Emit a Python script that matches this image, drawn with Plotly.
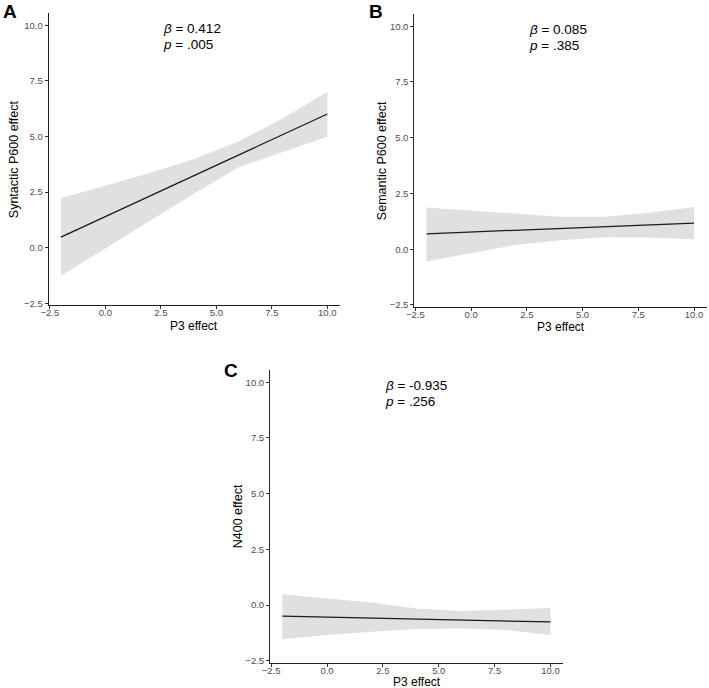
import plotly.graph_objects as go

# ---- data ----
p3_grid = [-2, 0, 2, 4, 6, 8, 10]

synt_fit = [0.47, 1.39, 2.32, 3.24, 4.16, 5.09, 6.01]
synt_upper = [2.22, 2.77, 3.35, 3.99, 4.77, 5.82, 7.01]
synt_lower = [-1.27, -0.04, 1.19, 2.43, 3.61, 4.30, 4.99]

sem_fit = [0.69, 0.77, 0.85, 0.93, 1.01, 1.09, 1.17]
sem_upper = [1.87, 1.73, 1.59, 1.46, 1.46, 1.64, 1.89]
sem_lower = [-0.55, -0.18, 0.19, 0.40, 0.53, 0.52, 0.45]

n400_fit = [-0.50, -0.54, -0.59, -0.63, -0.67, -0.72, -0.76]
n400_upper = [0.48, 0.29, 0.11, -0.16, -0.27, -0.21, -0.13]
n400_lower = [-1.54, -1.35, -1.20, -1.08, -1.05, -1.12, -1.35]

panel_letters = ["A", "B", "C"]
y_titles = ["Syntactic P600 effect", "Semantic P600 effect", "N400 effect"]
x_title = "P3 effect"
betas = ["0.412", "0.085", "-0.935"]
pvals = [".005", ".385", ".256"]

tick_vals = [-2.5, 0, 2.5, 5, 7.5, 10]

# ---- layout geometry ----
W, H = 709, 688
panels = [
    dict(x0=48.7, x1=340.0, y0=13.0, y1=305.0, ytshift=-34.5, xtshift=-20.5, letter=(1.0, 11)),
    dict(x0=414.3, x1=706.7, y0=14.0, y1=306.7, ytshift=-31.5, xtshift=-20.0, letter=(367.0, 11)),
    dict(x0=270.0, x1=563.3, y0=370.0, y1=662.5, ytshift=-32.0, xtshift=-19.0, letter=(222.0, 370.5)),
]
series = [
    (synt_fit, synt_upper, synt_lower),
    (sem_fit, sem_upper, sem_lower),
    (n400_fit, n400_upper, n400_lower),
]

FONT = "Liberation Sans, Arial, Helvetica, sans-serif"
fig = go.Figure()
annotations = []

for i, (pan, (fit, up, lo)) in enumerate(zip(panels, series)):
    k = "" if i == 0 else str(i + 1)
    xa, ya = "x" + k, "y" + k
    # ribbon
    fig.add_trace(go.Scatter(
        x=p3_grid + p3_grid[::-1], y=up + lo[::-1],
        fill="toself", fillcolor="#E0E0E0", line=dict(width=0),
        mode="lines", hoverinfo="skip", showlegend=False, xaxis=xa, yaxis=ya))
    # fit line
    fig.add_trace(go.Scatter(
        x=p3_grid, y=fit, mode="lines", line=dict(color="#1a1a1a", width=1.3),
        showlegend=False, xaxis=xa, yaxis=ya))

    axis_common = dict(
        showgrid=False, zeroline=False, showline=True, linecolor="#222222", linewidth=1,
        ticks="outside", ticklen=3, tickwidth=1, tickcolor="#333333",
        tickvals=tick_vals, tickformat=".1f", automargin=False,
        tickfont=dict(family=FONT, size=9.5, color="#4D4D4D"),
    )
    fig.update_layout(**{
        ("xaxis" + k): dict(axis_common, domain=[pan["x0"] / W, pan["x1"] / W],
                            range=[-2.55, 10.57], anchor=ya, ticklabelstandoff=-4),
        ("yaxis" + k): dict(axis_common, domain=[1 - pan["y1"] / H, 1 - pan["y0"] / H],
                            range=[-2.58, 10.55], anchor=xa),
    })

    xr = xa
    yr = ya
    # stats text
    annotations.append(dict(
        x=2.5, y=9.86, xref=xr, yref=yr, xanchor="left", yanchor="middle",
        text="<i>β</i> = " + betas[i], showarrow=False,
        font=dict(family=FONT, size=13.5, color="black")))
    annotations.append(dict(
        x=2.5, y=9.14, xref=xr, yref=yr, xanchor="left", yanchor="middle",
        text="<i>p</i> = " + pvals[i], showarrow=False,
        font=dict(family=FONT, size=13.5, color="black")))
    # axis titles
    annotations.append(dict(
        x=0.5, y=0, xref=xr + " domain", yref=yr + " domain", yshift=pan["xtshift"],
        xanchor="center", yanchor="middle", text=x_title, showarrow=False,
        font=dict(family=FONT, size=12, color="black")))
    annotations.append(dict(
        x=0, y=0.5, xref=xr + " domain", yref=yr + " domain", xshift=pan["ytshift"],
        xanchor="center", yanchor="middle", text=y_titles[i], textangle=-90,
        showarrow=False, font=dict(family=FONT, size=12.5, color="black")))
    # panel letter
    lx, ly = pan["letter"]
    annotations.append(dict(
        x=lx / W, y=1 - ly / H, xref="paper", yref="paper", xanchor="left",
        yanchor="middle", text="<b>" + panel_letters[i] + "</b>", showarrow=False,
        font=dict(family=FONT, size=19, color="black")))

fig.update_layout(
    width=W, height=H, margin=dict(l=0, r=0, t=0, b=0, pad=0),
    paper_bgcolor="white", plot_bgcolor="white",
    annotations=annotations, showlegend=False,
)

fig.write_html(
    "out.html",
    post_script="document.body.style.margin='0';document.body.style.padding='0';",
)
